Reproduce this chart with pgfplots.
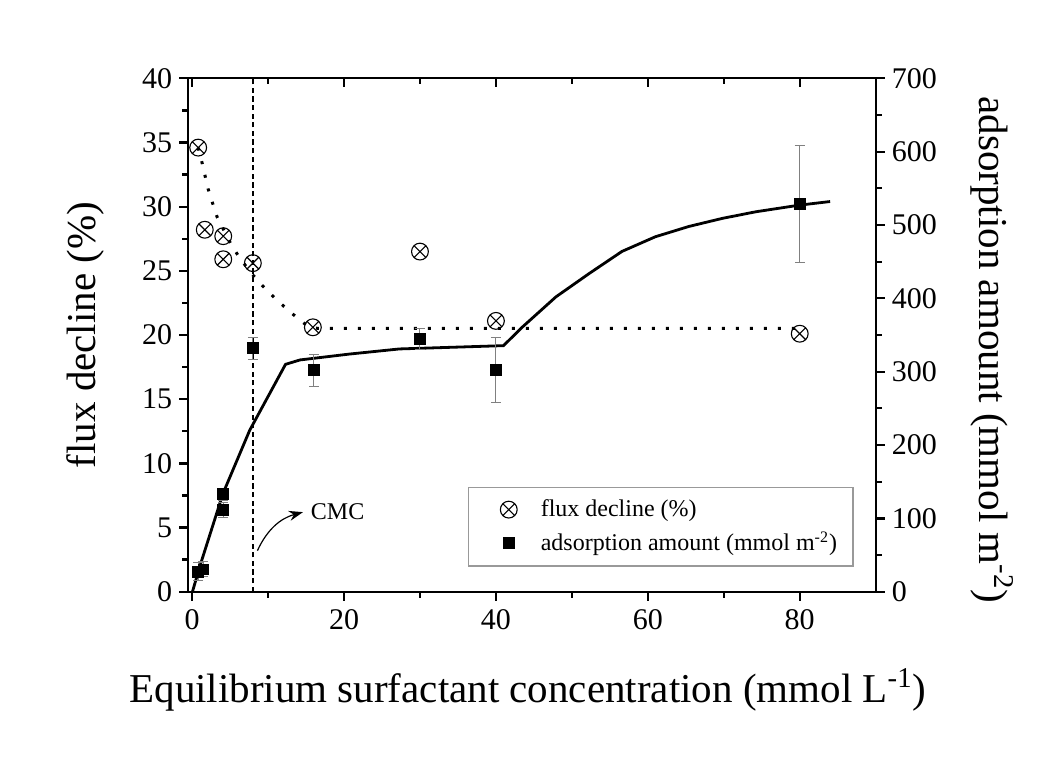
\documentclass[border=0pt]{standalone}
\usepackage{fontspec}
\setmainfont{Liberation Serif}
\usepackage{pgfplots}
\pgfplotsset{compat=1.18}
\usetikzlibrary{arrows.meta}

\begin{document}
\begin{tikzpicture}
\pgfplotsset{
  every axis/.append style={
    scale only axis, width=343.7pt, height=256.7pt,
    at={(0,0)}, anchor=south west,
    xmin=-0.5, xmax=90,
    axis line style={line width=1.15pt},
    tick style={black, line width=1.15pt},
    major tick length=4.5pt, minor tick length=3pt,
    tick label style={font=\fontsize{15}{18}\selectfont},
    label style={font=\fontsize{20.5}{24}\selectfont},
    /pgf/number format/assume math mode=true,
  },
}

% left axis: flux decline
\begin{axis}[
  axis x line*=bottom, axis y line*=left, tick align=outside,
  ymin=0, ymax=40,
  xtick={0,20,40,60,80}, minor xtick={10,30,50,70},
  ytick={0,5,...,40}, minor ytick={2.5,7.5,...,37.5},
  xticklabel style={yshift=-1pt},
  xlabel={Equilibrium surfactant concentration (mmol L\textsuperscript{-1})},
  ylabel={flux decline (\%)},
  xlabel style={at={(axis description cs:0.494,-0.191)}, anchor=center},
  ylabel style={at={(axis description cs:-0.150,0.5)}, anchor=center},
  clip=false,
]
\addplot[line width=1.5pt, dash pattern=on 1.5pt off 5.5pt] coordinates {
  (0.8,34.6) (1.24,33.6) (2.1,31.4) (2.63,30.4) (3.29,29.2) (5.18,27.0)
  (6.27,26.0) (7.81,24.8) (9.33,23.8) (11.2,22.7) (13.1,21.7) (15.3,20.65)
  (16.5,20.52) (80,20.52)
};
\addplot[only marks, mark=otimes, mark size=4.2pt, mark options={line width=0.55pt}] coordinates {
  (0.8,34.6) (1.67,28.2) (4.1,27.7) (4.1,25.9) (8.0,25.6)
  (15.9,20.6) (30,26.5) (40,21.1) (80,20.1)
};
\addplot[line width=1.3pt, dash pattern=on 2.6pt off 1.7pt] coordinates {(8,0) (8,40)};
\draw[-{Stealth[length=7pt,width=5pt]}, line width=0.6pt]
  (axis cs:8.6,3.2) to[bend left=25] (axis cs:14.6,6.2);
\node[anchor=west, inner sep=0pt, font=\fontsize{12}{14}\selectfont] at (axis cs:15.6,6.25) {CMC};
\end{axis}

% right axis: adsorption amount
\begin{axis}[
  axis x line=none, axis y line*=right, tick align=outside,
  ymin=0, ymax=700,
  ytick={0,100,...,700}, minor ytick={50,150,...,650},
  ylabel={adsorption amount (mmol m\textsuperscript{-2})},
  ylabel style={at={(axis description cs:1.169,0.471)}, anchor=center, rotate=180},
  legend cell align=left,
  legend image code/.code={\path[draw=none, fill=none] (-14pt,-4pt) rectangle (14pt,4pt); \draw[#1] plot coordinates {(0pt,0pt)};},
  legend style={
    at={(axis description cs:0.407,0.204)}, anchor=north west,
    draw=gray!80, line width=0.7pt,
    font=\fontsize{12}{14}\selectfont,
    inner xsep=6pt, inner ysep=4pt, row sep=2pt,
  },
]
\addlegendimage{only marks, mark=otimes, mark size=4.2pt, mark options={line width=0.55pt}}
\addlegendentry{flux decline (\%)}
\addplot[line width=1.4pt, forget plot] coordinates {
  (0.05,0) (1.0,34) (4.07,134) (7.58,220) (12.3,310) (14.2,316) (20.7,324)
  (27.3,331) (41.0,335.5) (43.5,361) (47.9,402) (52.3,434) (56.6,464)
  (61.0,484) (65.4,498) (69.8,509) (74.2,518) (79.9,527) (84.0,532)
};
\addplot[only marks, mark=square*, mark size=2.7pt,
  error bars/.cd, y dir=both, y explicit,
  error bar style={gray, line width=0.5pt},
  error mark options={rotate=90, gray, mark size=2.5pt, line width=0.5pt}]
  table[x=x, y=y, y error=e] {
  x    y    e
  0.8  27.3 12
  1.5  30.5 10
  4.1  133  8
  4.1  111  10
  8.0  332  15
  16   302  22
  30   345  14.5
  40   302  44
  80   529  80
};
\addlegendentry{adsorption amount (mmol m\textsuperscript{-2})}
\end{axis}

% top axis: inward ticks only
\begin{axis}[
  axis x line*=top, axis y line=none, tick align=inside,
  ymin=0, ymax=1,
  xtick={0,20,40,60,80}, minor xtick={10,30,50,70}, xticklabels={},
]
\addplot[draw=none] coordinates {(0,0)};
\end{axis}

\pgfresetboundingbox
\path[use as bounding box] (-94.15pt,-82.15pt) rectangle (436.35pt,295.85pt);
\end{tikzpicture}
\end{document}
